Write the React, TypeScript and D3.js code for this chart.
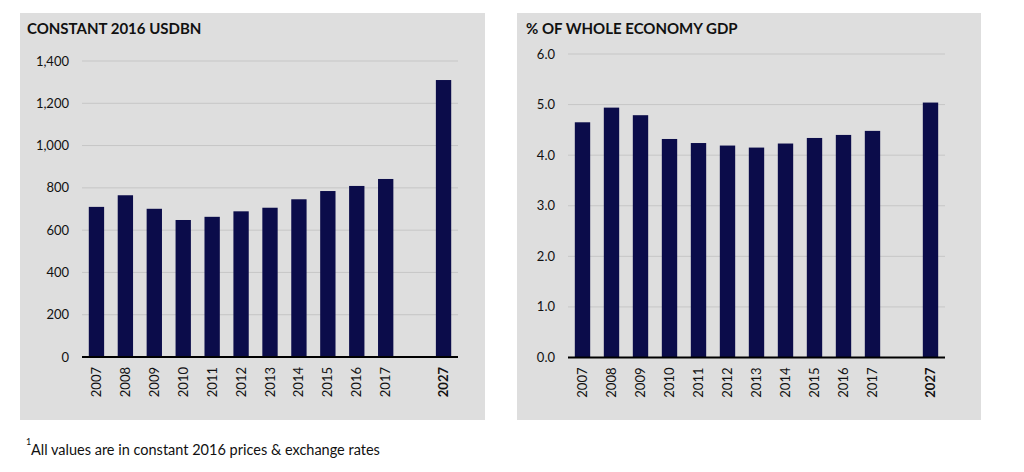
import React from "react";
import * as d3 from "d3";

const categories = ["2007", "2008", "2009", "2010", "2011", "2012", "2013", "2014", "2015", "2016", "2017", "", "2027"];
const usdValues = [710, 765, 701, 648, 663, 689, 706, 746, 785, 809, 842, null, 1310];
const gdpValues = [4.65, 4.94, 4.79, 4.32, 4.24, 4.19, 4.15, 4.23, 4.34, 4.4, 4.48, null, 5.04];
const usdTicks = [0, 200, 400, 600, 800, 1000, 1200, 1400];
const gdpTicks = [0, 1, 2, 3, 4, 5, 6];
const leftTitle = "CONSTANT 2016 USDBN";
const rightTitle = "% OF WHOLE ECONOMY GDP";
const footnote = "All values are in constant 2016 prices & exchange rates";

const BAR = "#0b0c4a";
const BG = "#dedede";
const GRID = "#c6c6c6";
const FONT = "Lato, 'Open Sans', sans-serif";

type PanelProps = {
  box: [number, number, number, number];
  plot: [number, number, number, number]; // x0, x1, yTop, yBottom
  title: string;
  titleX: number;
  values: (number | null)[];
  ticks: number[];
  fmt: (v: number) => string;
  labelGap: number;
};

function Panel({ box, plot, title, titleX, values, ticks, fmt, labelGap }: PanelProps) {
  const [bx, by, bw, bh] = box;
  const [x0, x1, yTop, yBot] = plot;
  const x = d3.scaleBand<string>().domain(categories.map((c, i) => c || "gap" + i)).range([x0, x1]).paddingInner(0.47).paddingOuter(0.235);
  const y = d3.scaleLinear().domain([0, ticks[ticks.length - 1]]).range([yBot, yTop]);
  return (
    <g>
      <rect x={bx} y={by} width={bw} height={bh} fill={BG} />
      <text x={titleX} y={by + 20.5} fontFamily={FONT} fontWeight={700} fontSize={15} fill="#111">
        {title}
      </text>
      {ticks.map((t) => (
        <g key={t}>
          {t !== 0 && <line x1={x0} x2={x1} y1={y(t)} y2={y(t)} stroke={GRID} strokeWidth={1} />}
          <text x={x0 - labelGap} y={y(t)} dy="0.35em" textAnchor="end" fontFamily={FONT} fontSize={13} fill="#111">
            {fmt(t)}
          </text>
        </g>
      ))}
      {categories.map((c, i) => {
        const v = values[i];
        const key = c || "gap" + i;
        const bxp = x(key)!;
        return (
          <g key={key}>
            {v != null && <rect x={bxp} y={y(v)} width={x.bandwidth()} height={y(0) - y(v)} fill={BAR} />}
            {c && (
              <text
                transform={`translate(${bxp + x.bandwidth() / 2},${yBot + 10}) rotate(-90)`}
                dy="0.35em"
                textAnchor="end"
                fontFamily={FONT}
                fontSize={13}
                fontWeight={c === "2027" ? 700 : 400}
                fill="#111"
              >
                {c}
              </text>
            )}
          </g>
        );
      })}
      <line x1={x0} x2={x1} y1={yBot} y2={yBot} stroke="#000" strokeWidth={2} />
    </g>
  );
}

export default function App() {
  return (
    <svg width={1024} height={472} style={{ position: "absolute", left: 0, top: 0, background: "#fff" }}>
      <Panel
        box={[20, 13, 465, 407]}
        plot={[82, 458, 61, 357]}
        title={leftTitle}
        titleX={27}
        values={usdValues}
        ticks={usdTicks}
        fmt={(v) => d3.format(",")(v)}
        labelGap={13}
      />
      <Panel
        box={[517, 13, 464, 407]}
        plot={[568, 945, 54, 357.5]}
        title={rightTitle}
        titleX={526}
        values={gdpValues}
        ticks={gdpTicks}
        fmt={(v) => d3.format(".1f")(v)}
        labelGap={13}
      />
      <text x={26} y={445} fontFamily={FONT} fontSize={9} fill="#111">1</text>
      <text x={31} y={455} fontFamily={FONT} fontSize={14.5} fill="#111">{footnote}</text>
    </svg>
  );
}
